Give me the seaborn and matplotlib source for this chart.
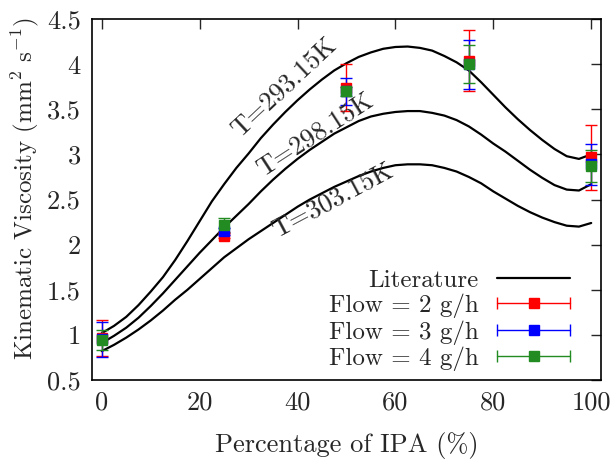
import numpy as np
import pandas as pd
import seaborn as sns
import matplotlib
matplotlib.use('Agg')
import matplotlib.pyplot as plt
from matplotlib.lines import Line2D
from matplotlib.legend_handler import HandlerLine2D, HandlerTuple

sns.set_style('white')
plt.rcParams['font.family'] = 'serif'
plt.rcParams['font.serif'] = ['cmr10']
plt.rcParams['mathtext.fontset'] = 'cm'
plt.rcParams['axes.unicode_minus'] = False

# literature curves
ipa = [0, 2.5, 5, 7.5, 10, 12.5, 15, 17.5, 20, 22.5, 25, 27.5, 30, 32.5, 35, 37.5, 40, 42.5,
       45, 47.5, 50, 52.5, 55, 57.5, 60, 62.5, 65, 67.5, 70, 72.5, 75, 77.5, 80, 82.5, 85,
       87.5, 90, 92.5, 95, 97.5, 100]
visc_293 = [1.02, 1.10, 1.20, 1.33, 1.48, 1.64, 1.83, 2.04, 2.26, 2.48, 2.67, 2.85, 3.01, 3.18,
            3.33, 3.47, 3.60, 3.72, 3.83, 3.93, 4.01, 4.08, 4.13, 4.17, 4.19, 4.195, 4.18, 4.15,
            4.09, 4.02, 3.93, 3.80, 3.66, 3.52, 3.39, 3.27, 3.16, 3.06, 2.98, 2.95, 3.00]
visc_298 = [0.91, 0.99, 1.08, 1.19, 1.32, 1.46, 1.61, 1.76, 1.91, 2.05, 2.19, 2.32, 2.45, 2.59,
            2.72, 2.84, 2.95, 3.05, 3.14, 3.23, 3.30, 3.37, 3.42, 3.45, 3.47, 3.48, 3.48, 3.46,
            3.43, 3.38, 3.31, 3.22, 3.12, 3.03, 2.93, 2.83, 2.74, 2.66, 2.61, 2.60, 2.67]
visc_303 = [0.82, 0.89, 0.97, 1.06, 1.16, 1.27, 1.39, 1.50, 1.62, 1.74, 1.86, 1.96, 2.06, 2.15,
            2.24, 2.33, 2.42, 2.50, 2.57, 2.64, 2.70, 2.76, 2.81, 2.85, 2.88, 2.89, 2.89, 2.88,
            2.85, 2.81, 2.75, 2.68, 2.59, 2.51, 2.43, 2.36, 2.30, 2.25, 2.21, 2.20, 2.24]
temps = ['T=293.15K', 'T=298.15K', 'T=303.15K']

# measurements
ipa_exp = [0, 25, 50, 75, 100]
flow2 = [0.97, 2.10, 3.74, 4.04, 2.97]
flow2_err = [0.20, 0.03, 0.26, 0.34, 0.36]
flow3 = [0.95, 2.15, 3.70, 4.00, 2.89]
flow3_err = [0.19, 0.04, 0.15, 0.27, 0.23]
flow4 = [0.94, 2.22, 3.70, 4.00, 2.87]
flow4_err = [0.11, 0.08, 0.05, 0.21, 0.18]
flow_labels = ['Flow = 2 g/h', 'Flow = 3 g/h', 'Flow = 4 g/h']
flow_colors = ['#ff0000', '#0000ff', '#228b22']

xticks = [0, 20, 40, 60, 80, 100]
xticklabels = ['0', '20', '40', '60', '80', '100']
yticks = [0.5, 1, 1.5, 2, 2.5, 3, 3.5, 4, 4.5]
yticklabels = ['0.5', '1', '1.5', '2', '2.5', '3', '3.5', '4', '4.5']

lit = pd.DataFrame({
    'ipa': ipa * 3,
    'visc': visc_293 + visc_298 + visc_303,
    'T': [temps[0]] * len(ipa) + [temps[1]] * len(ipa) + [temps[2]] * len(ipa),
})

fig, ax = plt.subplots(figsize=(6.14, 4.59), dpi=100)
fig.subplots_adjust(left=0.1498, right=0.9788, bottom=0.172, top=0.9586)

sns.lineplot(data=lit, x='ipa', y='visc', units='T', estimator=None, color='black',
             lw=1.6, ax=ax, legend=False)

for vals, errs, c in zip([flow2, flow3, flow4], [flow2_err, flow3_err, flow4_err], flow_colors):
    ax.errorbar(ipa_exp, vals, yerr=errs, fmt='s', color=c, ms=6.5, capsize=4,
                elinewidth=1, capthick=1, zorder=3)

# curve labels
ax.text(37.2, 3.75, temps[0], rotation=43, rotation_mode='anchor', ha='center', va='center', fontsize=19)
ax.text(43.5, 3.22, temps[1], rotation=33, rotation_mode='anchor', ha='center', va='center', fontsize=19)
ax.text(47.2, 2.49, temps[2], rotation=28, rotation_mode='anchor', ha='center', va='center', fontsize=19)

ax.set_xlim(-2, 102)
ax.set_ylim(0.5, 4.5)
ax.set_xticks(xticks)
ax.set_xticklabels(xticklabels)
ax.set_yticks(yticks)
ax.set_yticklabels(yticklabels)
ax.tick_params(direction='in', top=True, right=True, length=7, width=1, labelsize=19, pad=8)
for s in ax.spines.values():
    s.set_linewidth(1.2)
    s.set_color('black')

ax.set_xlabel('Percentage of IPA (%)', fontsize=19)
ax.set_ylabel('Kinematic Viscosity (mm$^2$ s$^{-1}$)', fontsize=18)
ax.xaxis.set_label_coords(0.5, -0.145)
ax.yaxis.set_label_coords(-0.1, 0.532)

# legend in gnuplot style
handles = [Line2D([], [], color='black', lw=1.6)]
hmap = {}
for c in flow_colors:
    caps = Line2D([], [], color=c, lw=1, marker='|', ms=8, mew=1)
    sq = Line2D([], [], color=c, lw=0, marker='s', ms=6.5)
    hmap[caps] = HandlerLine2D(numpoints=2, marker_pad=0)
    hmap[sq] = HandlerLine2D(numpoints=1)
    handles.append((caps, sq))
hmap[tuple] = HandlerTuple(ndivide=1, pad=0)
ax.legend(handles, ['Literature'] + flow_labels, handler_map=hmap, loc='lower right',
          frameon=False, markerfirst=False, fontsize=18, handlelength=2.9,
          handletextpad=0.75, labelspacing=0.08, borderaxespad=0, borderpad=0,
          bbox_to_anchor=(0.939, 0.025))

fig.savefig('out.png', dpi=100)
